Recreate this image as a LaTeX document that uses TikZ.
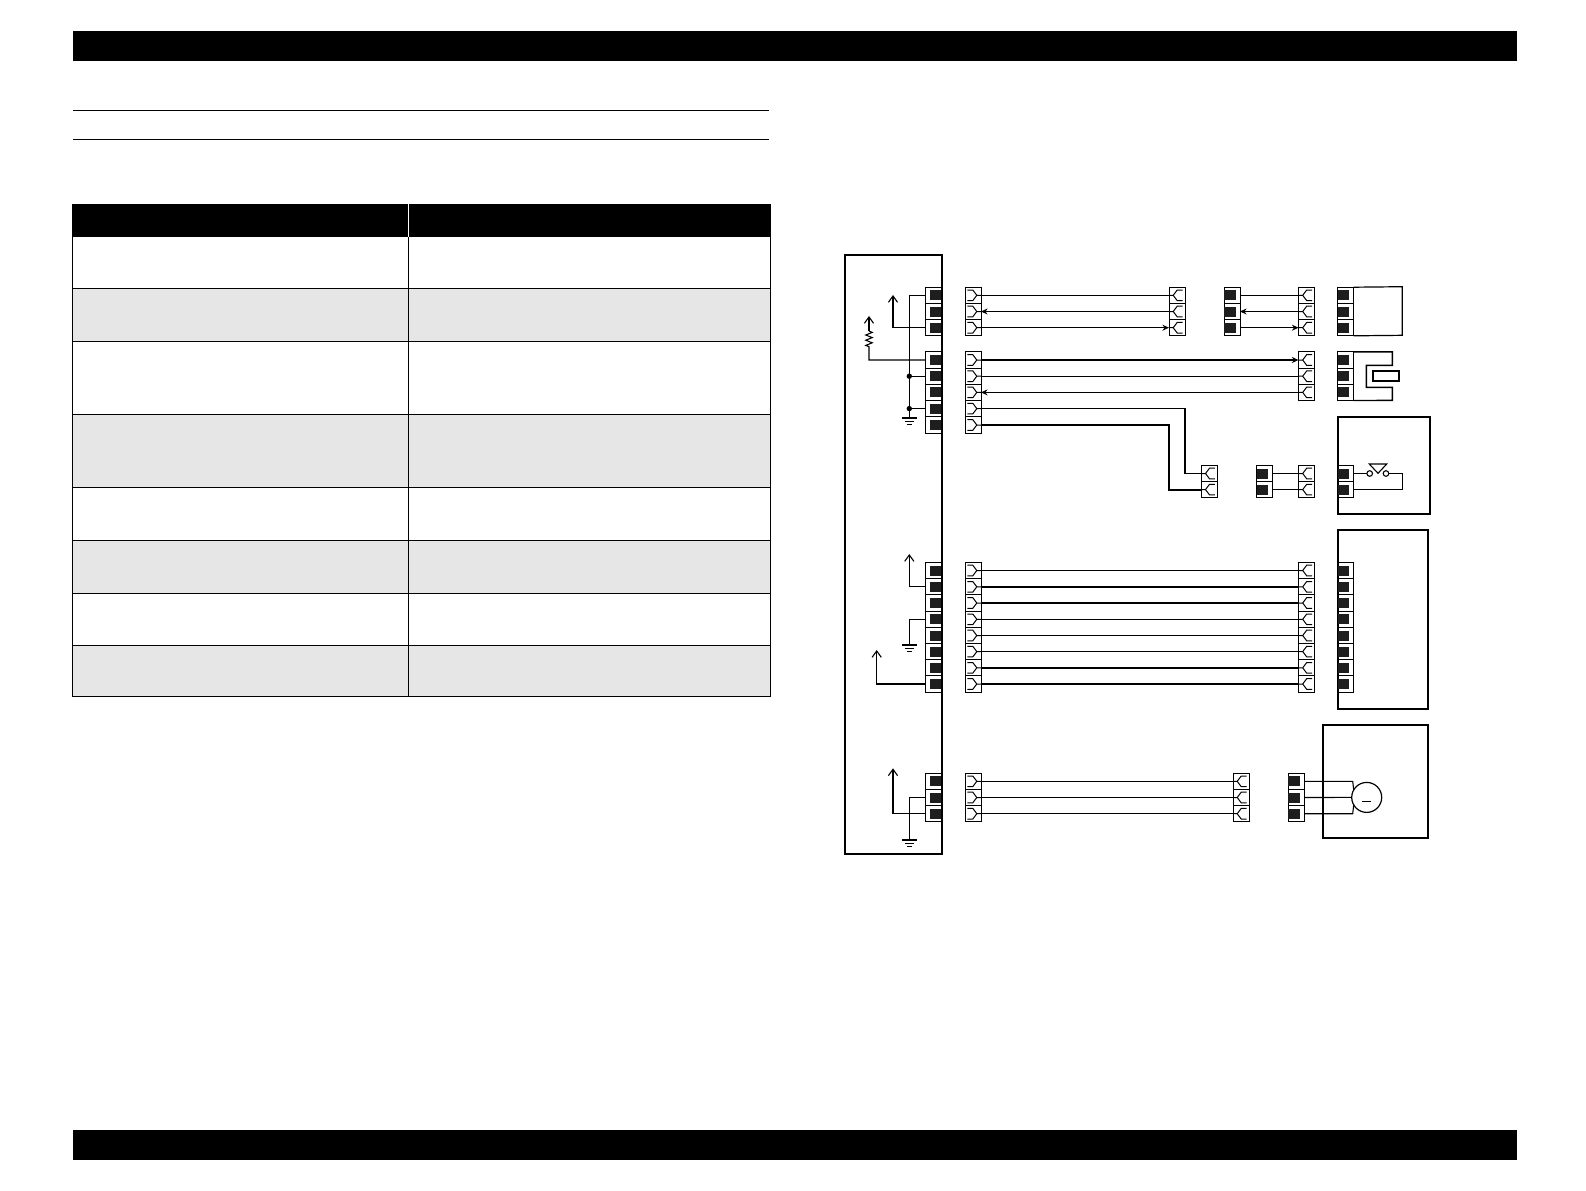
\documentclass[tikz,border=0pt]{standalone}
\usepackage{tikz}
\usetikzlibrary{arrows.meta}
\definecolor{rowgrey}{HTML}{E6E6E6}
\definecolor{padblack}{HTML}{1E1E1E}
\tikzset{
	cell/.style={draw,line width=.5pt,inner sep=0,outer sep=0,minimum width=8pt,minimum height=8.1pt},
	wire/.style={line width=.55pt},
	thickwire/.style={line width=1.05pt},
	frame/.style={line width=1pt},
	tablerule/.style={line width=.5pt},
	into/.style={-{Stealth[length=3.3pt,width=3pt]}},
	outof/.style={{Stealth[length=3.3pt,width=3pt]}-},
	goesup/.style={-{Straight Barb[length=3.2pt,width=4.6pt]}},
	padE/.pic={\fill[padblack] (-3.8,-5) rectangle (7.2,5);},
	padW/.pic={\fill[padblack] (-7.6,-5) rectangle (3.6,5);},
	forkE/.pic={\draw[line width=.5pt] (-5.6,-5.3) -- (-.2,-5.3) -- (3.8,0) -- (-.2,5.3) -- (-5.6,5.3) (3.8,0) -- (8,0);},
	forkW/.pic={\draw[line width=.5pt] (5.6,-5.3) -- (.2,-5.3) -- (-3.8,0) -- (.2,5.3) -- (5.6,5.3) (-3.8,0) -- (-8,0);},
	groundsign/.pic={\draw[line width=.55pt] (-7.5,0) -- (7.5,0) (-4.5,3.4) -- (4.5,3.4) (-2.5,6.8) -- (2.5,6.8);}
}
\begin{document}
\begin{tikzpicture}[x=.5pt,y=-.5pt]
	\useasboundingbox (0,0) rectangle (1586,1190);
	% page bars and rules
	\fill (73,31) rectangle (1517,60.7);
	\fill (73,1130) rectangle (1517,1159.5);
	\draw[tablerule] (73,110) -- (769,110);
	\draw[tablerule] (73,139) -- (769,139);
	% table
	\foreach \ya/\yb in {288/341,414/487.5,540/593,645/696} \fill[rowgrey] (72.5,\ya) rectangle (770.5,\yb);
	\fill (72,204) rectangle (771,236.7);
	\draw[white,line width=.5pt] (408.6,204) -- (408.6,236.7);
	\foreach \y in {288,341,414,487.5,540,593,645,696} \draw[tablerule] (72,\y) -- (771,\y);
	\foreach \x in {72.5,408.6,770.5} \draw[tablerule] (\x,236.7) -- (\x,696);
	% outer boxes
	\draw[frame] (845,254.7) rectangle (942,854);
	\draw[frame] (1337.5,416.7) rectangle (1430,514);
	\draw[frame] (1337.5,530) rectangle (1427.7,708.7);
	\draw[frame] (1322.7,724.7) rectangle (1428.3,837.7);
	% first row, three pins
	\foreach \i/\y in {1/295.3,2/311.5,3/327.7} {
		\node[cell] (ja\i) at (933.9,\y) {};
		\pic at (ja\i) {padE};
		\node[cell] (pa\i) at (973,\y) {};
		\pic at (pa\i) {forkE};
		\node[cell] (qa\i) at (1177,\y) {};
		\pic at (qa\i) {forkW};
		\node[cell] (ra\i) at (1232,\y) {};
		\pic at (ra\i) {padW};
		\node[cell] (sa\i) at (1306.5,\y) {};
		\pic at (sa\i) {forkW};
		\node[cell] (ta\i) at (1345.5,\y) {};
		\pic at (ta\i) {padW};
	}
	\draw[line width=.6pt] (ta1.north east) -- (1402.3,286.7) -- (1402.3,335.3) -- (ta3.south east);
	\draw[wire] (pa1.east) -- (qa1.west);
	\draw[wire,outof] (pa2.east) -- (qa2.west);
	\draw[wire,into] (pa3.east) -- (qa3.west);
	\draw[wire] (ra1.east) -- (sa1.west);
	\draw[wire,outof] (ra2.east) -- (sa2.west);
	\draw[wire,into] (ra3.east) -- (sa3.west);
	% second row, five pins
	\foreach \i/\y in {1/360,2/376.2,3/392.4,4/408.6,5/425} {
		\node[cell] (jb\i) at (933.9,\y) {};
		\pic at (jb\i) {padE};
		\node[cell] (pb\i) at (973,\y) {};
		\pic at (pb\i) {forkE};
	}
	\foreach \i/\y in {1/360,2/376.2,3/392.4} {
		\node[cell] (sb\i) at (1306.5,\y) {};
		\pic at (sb\i) {forkW};
		\node[cell] (tb\i) at (1345.5,\y) {};
		\pic at (tb\i) {padW};
	}
	\draw[thickwire,into] (pb1.east) -- (sb1.west);
	\draw[wire] (pb2.east) -- (sb2.west);
	\draw[wire,outof] (pb3.east) -- (sb3.west);
	% photo sensor outline
	\draw[line width=.7pt] (tb1.north east) -- (1392.3,351.8) -- (1392.3,365.3) -- (1366.3,365.3) -- (1366.3,387.3) -- (1392.3,387.3) -- (1392.3,400.4) -- (tb3.south east);
	\draw[line width=1pt] (1372.7,371.3) rectangle (1399.3,381);
	% two pin run to the switch
	\foreach \i/\y in {1/473.5,2/489.6} {
		\node[cell] (uc\i) at (1209.3,\y) {};
		\pic at (uc\i) {forkW};
		\node[cell] (vc\i) at (1264.8,\y) {};
		\pic at (vc\i) {padW};
		\node[cell] (sc\i) at (1306.5,\y) {};
		\pic at (sc\i) {forkW};
		\node[cell] (tc\i) at (1345.5,\y) {};
		\pic at (tc\i) {padW};
		\draw[wire] (vc\i.east) -- (sc\i.west);
	}
	\draw[wire] (pb4.east) -- (1185,408.6) -- (1185,473.5) -- (uc1.west);
	\draw[thickwire] (pb5.east) -- (1168.7,425) -- (1168.7,489.6) -- (uc2.west);
	% switch
	\coordinate (swa) at (1369.7,473.5);
	\coordinate (swb) at (1386,473.5);
	\draw[wire] (tc1.east) -- (swa);
	\draw[wire] (swb) -- (1402.3,473.5) -- (1402.3,489.6) -- (tc2.east);
	\draw[wire,fill=white] (swa) circle (2.8);
	\draw[wire,fill=white] (swb) circle (2.8);
	\draw[wire] (1369.3,464) -- (1386.7,464) -- (1378,473.3) -- cycle;
	% third row, eight pins
	\foreach \i/\y/\kind in {1/570.5/wire,2/586.8/thickwire,3/603/thickwire,4/619.3/wire,5/635.5/wire,6/651.6/wire,7/667.8/thickwire,8/684/thickwire} {
		\node[cell] (jd\i) at (933.9,\y) {};
		\pic at (jd\i) {padE};
		\node[cell] (pd\i) at (973,\y) {};
		\pic at (pd\i) {forkE};
		\node[cell] (sd\i) at (1306.5,\y) {};
		\pic at (sd\i) {forkW};
		\node[cell] (td\i) at (1345.5,\y) {};
		\pic at (td\i) {padW};
		\draw[\kind] (pd\i.east) -- (sd\i.west);
	}
	% fourth row, motor
	\foreach \i/\y in {1/781.3,2/797.5,3/813.7} {
		\node[cell] (je\i) at (933.9,\y) {};
		\pic at (je\i) {padE};
		\node[cell] (pe\i) at (973,\y) {};
		\pic at (pe\i) {forkE};
		\node[cell] (qe\i) at (1241,\y) {};
		\pic at (qe\i) {forkW};
		\node[cell] (re\i) at (1296,\y) {};
		\pic at (re\i) {padW};
		\draw[wire] (pe\i.east) -- (qe\i.west);
	}
	\node[draw,circle,line width=.6pt,inner sep=0,outer sep=0,minimum size=15pt] (motor) at (1366.7,797.4) {};
	\draw[wire] (re1.east) -- (1352.7,781.3) -- (motor.150);
	\draw[wire] (re2.east) -- (motor.west);
	\draw[wire] (re3.east) -- (1352.7,813.7) -- (motor.210);
	\draw[line width=.45pt] (1362,801) -- (1371,801);
	% board side wiring
	\coordinate (upa) at (893,295);
	\coordinate (upb) at (869,316);
	\coordinate (upc) at (909.3,554);
	\coordinate (upd) at (876.7,650);
	\coordinate (upe) at (893,768.3);
	\coordinate (gna) at (909.3,418);
	\coordinate (gnb) at (909.3,645);
	\coordinate (gnc) at (909.3,840);
	\draw[wire] (ja1.west) -| (gna);
	\draw[wire] (jb2.west) -- (jb2.west -| gna);
	\draw[wire] (jb4.west) -- (jb4.west -| gna);
	\fill (jb2.west -| gna) circle (2.7);
	\fill (jb4.west -| gna) circle (2.7);
	\pic at (gna) {groundsign};
	\draw[wire,goesup] (ja3.west) -| (upa);
	\draw[wire] (jb1.west) -- (869,360) -- (869,346.7) -- ++(-3.2,-1.3) -- ++(6.4,-2.6) -- ++(-6.4,-2.6) -- ++(6.4,-2.6) -- ++(-6.4,-2.6) -- ++(6.4,-2.6) -- (869,331);
	\draw[wire,goesup] (869,331) -- (upb);
	\draw[wire,goesup] (jd2.west) -| (upc);
	\draw[wire] (jd4.west) -| (gnb);
	\pic at (gnb) {groundsign};
	\draw[wire,goesup] (jd8.west) -| (upd);
	\draw[wire,goesup] (je3.west) -| (upe);
	\draw[wire] (je2.west) -| (gnc);
	\pic at (gnc) {groundsign};
\end{tikzpicture}
\end{document}
